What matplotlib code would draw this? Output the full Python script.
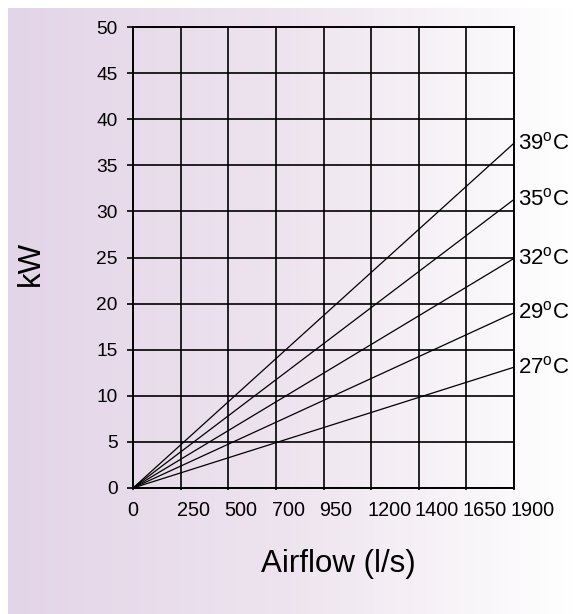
import matplotlib
matplotlib.use('Agg')
import matplotlib.pyplot as plt
import numpy as np
from matplotlib import font_manager
from matplotlib.colors import LinearSegmentedColormap
from matplotlib.transforms import ScaledTranslation

# Data
airflow_labels = ['0', '250', '500', '700', '950', '1200', '1400', '1650', '1900']
kw_ticks = list(range(0, 51, 5))
temp_labels = ['27', '29', '32', '35', '39']
kw_start = [0, 0, 0, 0, 0]            # kW at 0 l/s
kw_end = [13.1, 19.0, 24.9, 31.3, 37.4]  # kW at 1900 l/s

# fonts: narrow sans if present
names = {f.name for f in font_manager.fontManager.ttflist}
if 'Liberation Sans Narrow' in names:
    fam = 'Liberation Sans Narrow'
    sz = dict(y=14.5, x=16, temp=17, lab=25)
else:
    fam = 'Liberation Sans'
    sz = dict(y=13.8, x=14.3, temp=16, lab=22.5)
plt.rcParams['font.family'] = [fam, 'DejaVu Sans']
plt.rcParams['mathtext.fontset'] = 'custom'
plt.rcParams['mathtext.rm'] = fam

W, H = 573, 614
fig = plt.figure(figsize=(W / 100, H / 100), dpi=100)
fig.patch.set_facecolor('white')

# lavender-to-white background
bg = fig.add_axes([8 / W, 0, 1 - 8 / W, 1 - 8 / H], zorder=-5)
cmap = LinearSegmentedColormap.from_list('bg', ['#e3d5e8', '#eee4ef', '#ffffff'])
grad = np.linspace(0, 1, 256).reshape(1, -1)
bg.imshow(grad, aspect='auto', cmap=cmap, extent=[0, 1, 0, 1])
bg.set_axis_off()

ax = fig.add_axes([133 / W, 1 - 488 / H, (514 - 133) / W, (488 - 27) / H])
ax.set_facecolor('none')

x = np.arange(len(airflow_labels))
ends = [x[0], x[-1]]
for t, a, b in zip(temp_labels, kw_start, kw_end):
    ax.plot(ends, [a, b], color='black', lw=0.9, solid_capstyle='butt', zorder=3)
    ax.annotate(t + r'$^{\mathrm{o}}$C', xy=(x[-1], b), xytext=(3, 0),
                textcoords='offset points', ha='left', va='center',
                fontsize=sz['temp'], color='black', annotation_clip=False)

ax.set_xlim(x[0], x[-1])
ax.set_ylim(kw_ticks[0], kw_ticks[-1])
ax.set_xticks(x)
ax.set_xticklabels([])
ax.set_yticks(kw_ticks)
ax.set_yticklabels([str(v) for v in kw_ticks], fontsize=sz['y'])
ax.tick_params(axis='y', length=4.5, width=1.2, pad=6.5, color='black')
ax.tick_params(axis='x', length=1.5, width=1.2)
ax.grid(True, color='black', lw=1.2)
for s in ax.spines.values():
    s.set_linewidth(1.4)
    s.set_color('black')

# x tick labels, left-aligned just before each grid line (0 centred)
xtr = ax.get_xaxis_transform()
for i, lab in enumerate(airflow_labels):
    if i == 0:
        off = ScaledTranslation(0, -13 / 100, fig.dpi_scale_trans)
        ha = 'center'
    else:
        off = ScaledTranslation(-4 / 100, -13 / 100, fig.dpi_scale_trans)
        ha = 'left'
    ax.text(x[i], 0, lab, transform=xtr + off, ha=ha, va='top',
            fontsize=sz['x'], clip_on=False)

fig.text(338 / W, 1 - 572 / H, 'Airflow (l/s)', ha='center', va='baseline',
         fontsize=sz['lab'])
fig.text(31 / W, 1 - 263 / H, 'kW', ha='center', va='center', rotation=90,
         fontsize=sz['lab'])

fig.savefig('out.png', dpi=100)
